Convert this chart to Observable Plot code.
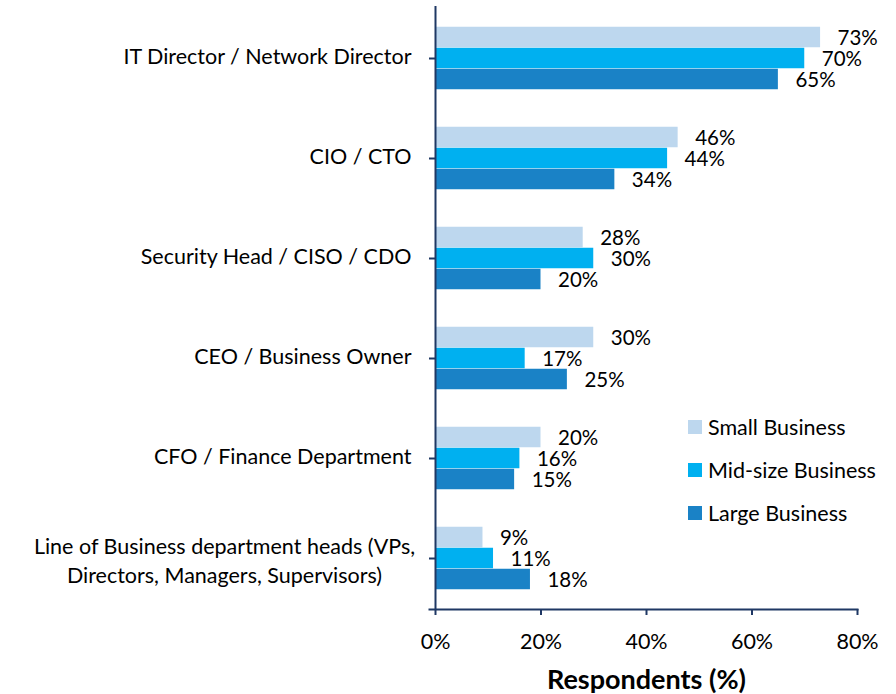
<!DOCTYPE html>
<html>
<head>
<meta charset="utf-8">
<script src="https://cdn.jsdelivr.net/npm/d3@7"></script>
<script src="https://cdn.jsdelivr.net/npm/@observablehq/plot@0.6"></script>
<style>
  html, body { margin: 0; padding: 0; background: #fff; }
  #wrap { position: relative; width: 896px; height: 694px; font-family: Lato, "Open Sans", sans-serif; }
  #legend { position: absolute; left: 688px; top: 406px; font-size: 21.5px; color: #000; }
  .li { display: flex; align-items: center; height: 42.7px; }
  .sw { width: 14px; height: 14px; margin-right: 6px; }
</style>
</head>
<body>
<div id="wrap"><div id="legend"></div></div>
<script>
const categories = [
  "IT Director / Network Director",
  "CIO / CTO",
  "Security Head / CISO / CDO",
  "CEO / Business Owner",
  "CFO / Finance Department",
  "Line of Business department heads (VPs,\nDirectors, Managers, Supervisors)"
];
const series = ["Small Business", "Mid-size Business", "Large Business"];
const colors = ["#BDD7EE", "#00B0F0", "#1A82C6"];
const small = [73, 46, 28, 30, 20, 9];
const mid = [70, 44, 30, 17, 16, 11];
const large = [65, 34, 20, 25, 15, 18];
const xTicks = [0, 20, 40, 60, 80];

const values = [small, mid, large];
const rows = [];
series.forEach((s, si) => categories.forEach((c, ci) => rows.push({category: c, series: s, si, value: values[si][ci]})));

const axisColor = "#1F3864";
const fs = 21.5;
const plotTop = 6, plotBottom = 609;
const band = (plotBottom - plotTop) / categories.length;
const barH = 21;
const g = (band - 3 * barH) / 2;

const barMarks = series.map((s, si) => Plot.barX(rows.filter(d => d.si === si), {
  y: "category", x: "value", fill: colors[si],
  insetTop: g + si * barH, insetBottom: band - g - (si + 1) * barH
}));
const labelMarks = series.map((s, si) => Plot.text(rows.filter(d => d.si === si), {
  y: "category", x: "value", text: d => d.value + "%",
  textAnchor: "start", dx: 17, dy: (si - 1) * barH + 1, fontSize: 20.5, fill: "#000"
}));

const single = categories.filter(c => !c.includes("\n"));
const multi = categories.filter(c => c.includes("\n"));

const chart = Plot.plot({
  width: 896, height: 694,
  marginLeft: 435, marginRight: 39, marginTop: plotTop, marginBottom: 694 - plotBottom,
  style: {fontFamily: "Lato, 'Open Sans', sans-serif", fontSize: fs + "px", color: "#000", background: "transparent"},
  x: {domain: [0, 80], axis: null},
  y: {domain: categories, padding: 0, axis: null},
  marks: [
    ...barMarks,
    ...labelMarks,
    Plot.ruleX([0], {stroke: axisColor, strokeWidth: 2}),
    Plot.frame({anchor: "bottom", stroke: axisColor, strokeWidth: 2, insetLeft: -6}),
    Plot.axisX({ticks: xTicks, tickFormat: d => d + "%", tickSize: 6, tickPadding: 18, stroke: axisColor, strokeWidth: 2, fontSize: fs, fill: "#000", label: null}),
    Plot.axisY({tickSize: 6, tickFormat: () => "", stroke: axisColor, strokeWidth: 2, label: null}),
    Plot.text(single, {y: d => d, frameAnchor: "left", dx: -24, dy: -1, textAnchor: "end", fontSize: fs, fill: "#000"}),
    Plot.text(multi, {y: d => d, frameAnchor: "left", dx: -211, dy: 1, textAnchor: "middle", lineAnchor: "middle", lineHeight: 1.35, fontSize: fs, fill: "#000"}),
    Plot.text(["Respondents (%)"], {frameAnchor: "bottom", dy: 79, fontWeight: "bold", fontSize: 27, fill: "#000"})
  ]
});
document.getElementById("wrap").prepend(chart);

const legend = document.getElementById("legend");
series.forEach((s, i) => {
  const d = document.createElement("div");
  d.className = "li";
  d.innerHTML = `<div class="sw" style="background:${colors[i]}"></div><span>${s}</span>`;
  legend.appendChild(d);
});
</script>
</body>
</html>
